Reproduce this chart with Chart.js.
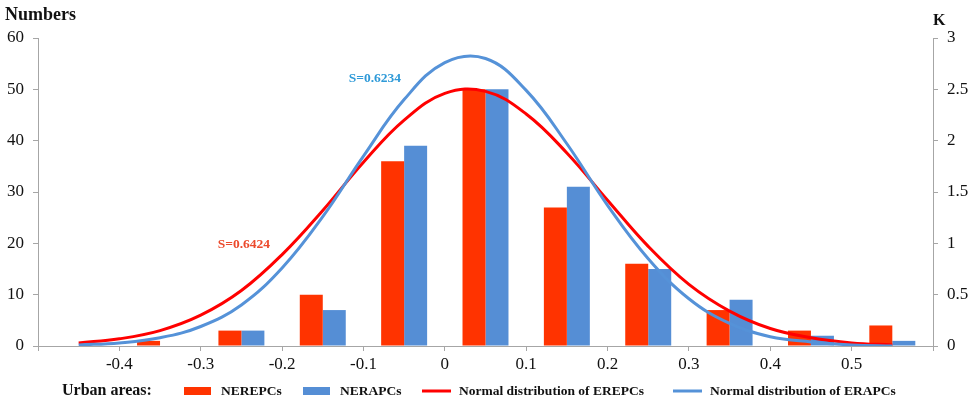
<!DOCTYPE html>
<html>
<head>
<meta charset="utf-8">
<script src="https://cdn.jsdelivr.net/npm/chart.js@4.4.0/dist/chart.umd.min.js"></script>
<style>
    html, body { margin: 0; padding: 0; background: #fff; }
    #wrap { width: 975px; height: 404px; }
</style>
</head>
<body>
<div id="wrap"><canvas id="myChart" width="975" height="404"></canvas></div>
<script>
// class mid points of the histogram
const binCentres = [-0.35, -0.25, -0.15, -0.05, 0.05, 0.15, 0.25, 0.35, 0.45, 0.55]
const nerepcCounts = [1, 3, 10, 36, 50, 27, 16, 7, 3, 4]
const nerapcCounts = [0, 3, 7, 39, 50, 31, 15, 9, 2, 1]

// fitted curves (right axis, K)
const curveX = [-0.45, -0.40, -0.35, -0.30, -0.25, -0.20, -0.15, -0.10, -0.05, 0, 0.05,
    0.10, 0.15, 0.20, 0.25, 0.30, 0.35, 0.40, 0.45, 0.50, 0.55]
const erepcCurve = [0.03, 0.07, 0.15, 0.30, 0.54, 0.89, 1.32, 1.79, 2.20, 2.46, 2.48,
    2.26, 1.88, 1.42, 0.97, 0.60, 0.34, 0.17, 0.08, 0.03, 0.01]
const erapcCurve = [0.01, 0.03, 0.08, 0.19, 0.40, 0.76, 1.26, 1.85, 2.40, 2.76, 2.80,
    2.49, 1.97, 1.37, 0.85, 0.46, 0.22, 0.09, 0.04, 0.01, 0.00]

const xTickLabels = ['-0.4', '-0.3', '-0.2', '-0.1', '0', '0.1', '0.2', '0.3', '0.4', '0.5']

// the two S= notes (x value, K value)
const notes = [
    { text: 'S=0.6424', x: -0.247, k: 0.99, color: '#EC4A2C' },
    { text: 'S=0.6234', x: -0.086, k: 2.61, color: '#2F9AD8' }
]

const legendTitle = 'Urban areas:'
const legendX = [184, 303, 422, 673]

const axisGrey = '#A6A6A6'
const serif = '"Liberation Serif", "Times New Roman", serif'

function toPoints(xs, ys) {
    let pts = []
    xs.forEach((x, i) => pts.push({ x: x, y: ys[i] }))
    return pts
}

// titles, S notes and the legend row
const extraText = {
    id: 'extraText',
    afterDatasetsDraw(chart) {
        const ctx = chart.ctx
        const xs = chart.scales.x
        const ks = chart.scales.y2
        ctx.save()
        ctx.font = 'bold 13.5px ' + serif
        ctx.textAlign = 'center'
        ctx.textBaseline = 'middle'
        notes.forEach(n => {
            ctx.fillStyle = n.color
            ctx.fillText(n.text, xs.getPixelForValue(n.x), ks.getPixelForValue(n.k))
        })
        ctx.restore()
    },
    afterDraw(chart) {
        const ctx = chart.ctx
        const area = chart.chartArea
        ctx.save()
        ctx.fillStyle = '#111'
        ctx.textBaseline = 'alphabetic'
        ctx.textAlign = 'left'
        ctx.font = 'bold 18px ' + serif
        ctx.fillText('Numbers', 5, 20)
        ctx.font = 'bold 16px ' + serif
        ctx.fillText('K', area.right, 25)

        // legend
        const ly = 391
        ctx.font = 'bold 16px ' + serif
        ctx.textBaseline = 'middle'
        ctx.fillText(legendTitle, 62, ly)
        ctx.font = 'bold 13.5px ' + serif
        chart.data.datasets.forEach((ds, i) => {
            const x0 = legendX[i]
            if (ds.type === 'line') {
                ctx.strokeStyle = ds.borderColor
                ctx.lineWidth = 3
                ctx.beginPath()
                ctx.moveTo(x0, ly)
                ctx.lineTo(x0 + 29, ly)
                ctx.stroke()
            } else {
                ctx.fillStyle = ds.backgroundColor
                ctx.fillRect(x0, ly - 4, 27, 8)
            }
            ctx.fillStyle = '#111'
            ctx.fillText(ds.label, x0 + 37, ly + 1)
        })
        ctx.restore()
    }
}

function drawChart() {
    const ctx = document.getElementById('myChart').getContext('2d')

    const myChart = new Chart(ctx, {
        type: 'bar',
        data: {
            datasets: [{
                label: 'NEREPCs',
                data: toPoints(binCentres, nerepcCounts),
                backgroundColor: '#FF3300',
                borderWidth: 0,
                categoryPercentage: 0.565,
                barPercentage: 1,
                yAxisID: 'y',
                order: 2
            }, {
                label: 'NERAPCs',
                data: toPoints(binCentres, nerapcCounts),
                backgroundColor: '#558ED5',
                borderWidth: 0,
                categoryPercentage: 0.565,
                barPercentage: 1,
                yAxisID: 'y',
                order: 2
            }, {
                type: 'line',
                label: 'Normal distribution of EREPCs',
                data: toPoints(curveX, erepcCurve),
                borderColor: '#FF0000',
                borderWidth: 3,
                pointRadius: 0,
                tension: 0.4,
                fill: false,
                yAxisID: 'y2',
                order: 1
            }, {
                type: 'line',
                label: 'Normal distribution of ERAPCs',
                data: toPoints(curveX, erapcCurve),
                borderColor: '#5592D8',
                borderWidth: 3,
                pointRadius: 0,
                tension: 0.4,
                fill: false,
                yAxisID: 'y2',
                order: 0
            }]
        },
        options: {
            responsive: false,
            animation: false,
            layout: { padding: { top: 38, left: 0, right: 0, bottom: 0 } },
            plugins: {
                legend: { display: false },
                tooltip: { enabled: false }
            },
            scales: {
                x: {
                    type: 'linear',
                    min: -0.5,
                    max: 0.6,
                    offset: false,
                    grid: { offset: false, drawOnChartArea: false, drawTicks: true, tickLength: 5, color: axisGrey },
                    border: { color: axisGrey, width: 1 },
                    ticks: {
                        stepSize: 0.1,
                        autoSkip: false,
                        maxRotation: 0,
                        padding: 3,
                        color: '#111',
                        font: { family: serif, size: 17 },
                        callback: (value) => {
                            const s = String(Math.round(value * 10) / 10)
                            return xTickLabels.includes(s) ? s : ''
                        }
                    },
                    afterFit: (scale) => { scale.height = 58 }
                },
                y: {
                    position: 'left',
                    min: 0,
                    max: 60,
                    grid: { drawOnChartArea: false, drawTicks: true, tickLength: 5, color: axisGrey },
                    border: { color: axisGrey, width: 1 },
                    ticks: {
                        stepSize: 10,
                        padding: 9,
                        color: '#111',
                        font: { family: serif, size: 17 }
                    },
                    afterFit: (scale) => { scale.width = 38 }
                },
                y2: {
                    position: 'right',
                    min: 0,
                    max: 3,
                    grid: { drawOnChartArea: false, drawTicks: true, tickLength: 5, color: axisGrey },
                    border: { color: axisGrey, width: 1 },
                    ticks: {
                        stepSize: 0.5,
                        padding: 9,
                        color: '#111',
                        font: { family: serif, size: 17 },
                        callback: (value) => String(value)
                    },
                    afterFit: (scale) => { scale.width = 42 }
                }
            }
        },
        plugins: [extraText]
    })
}

window.onload = () => {
    drawChart()
}
</script>
</body>
</html>
